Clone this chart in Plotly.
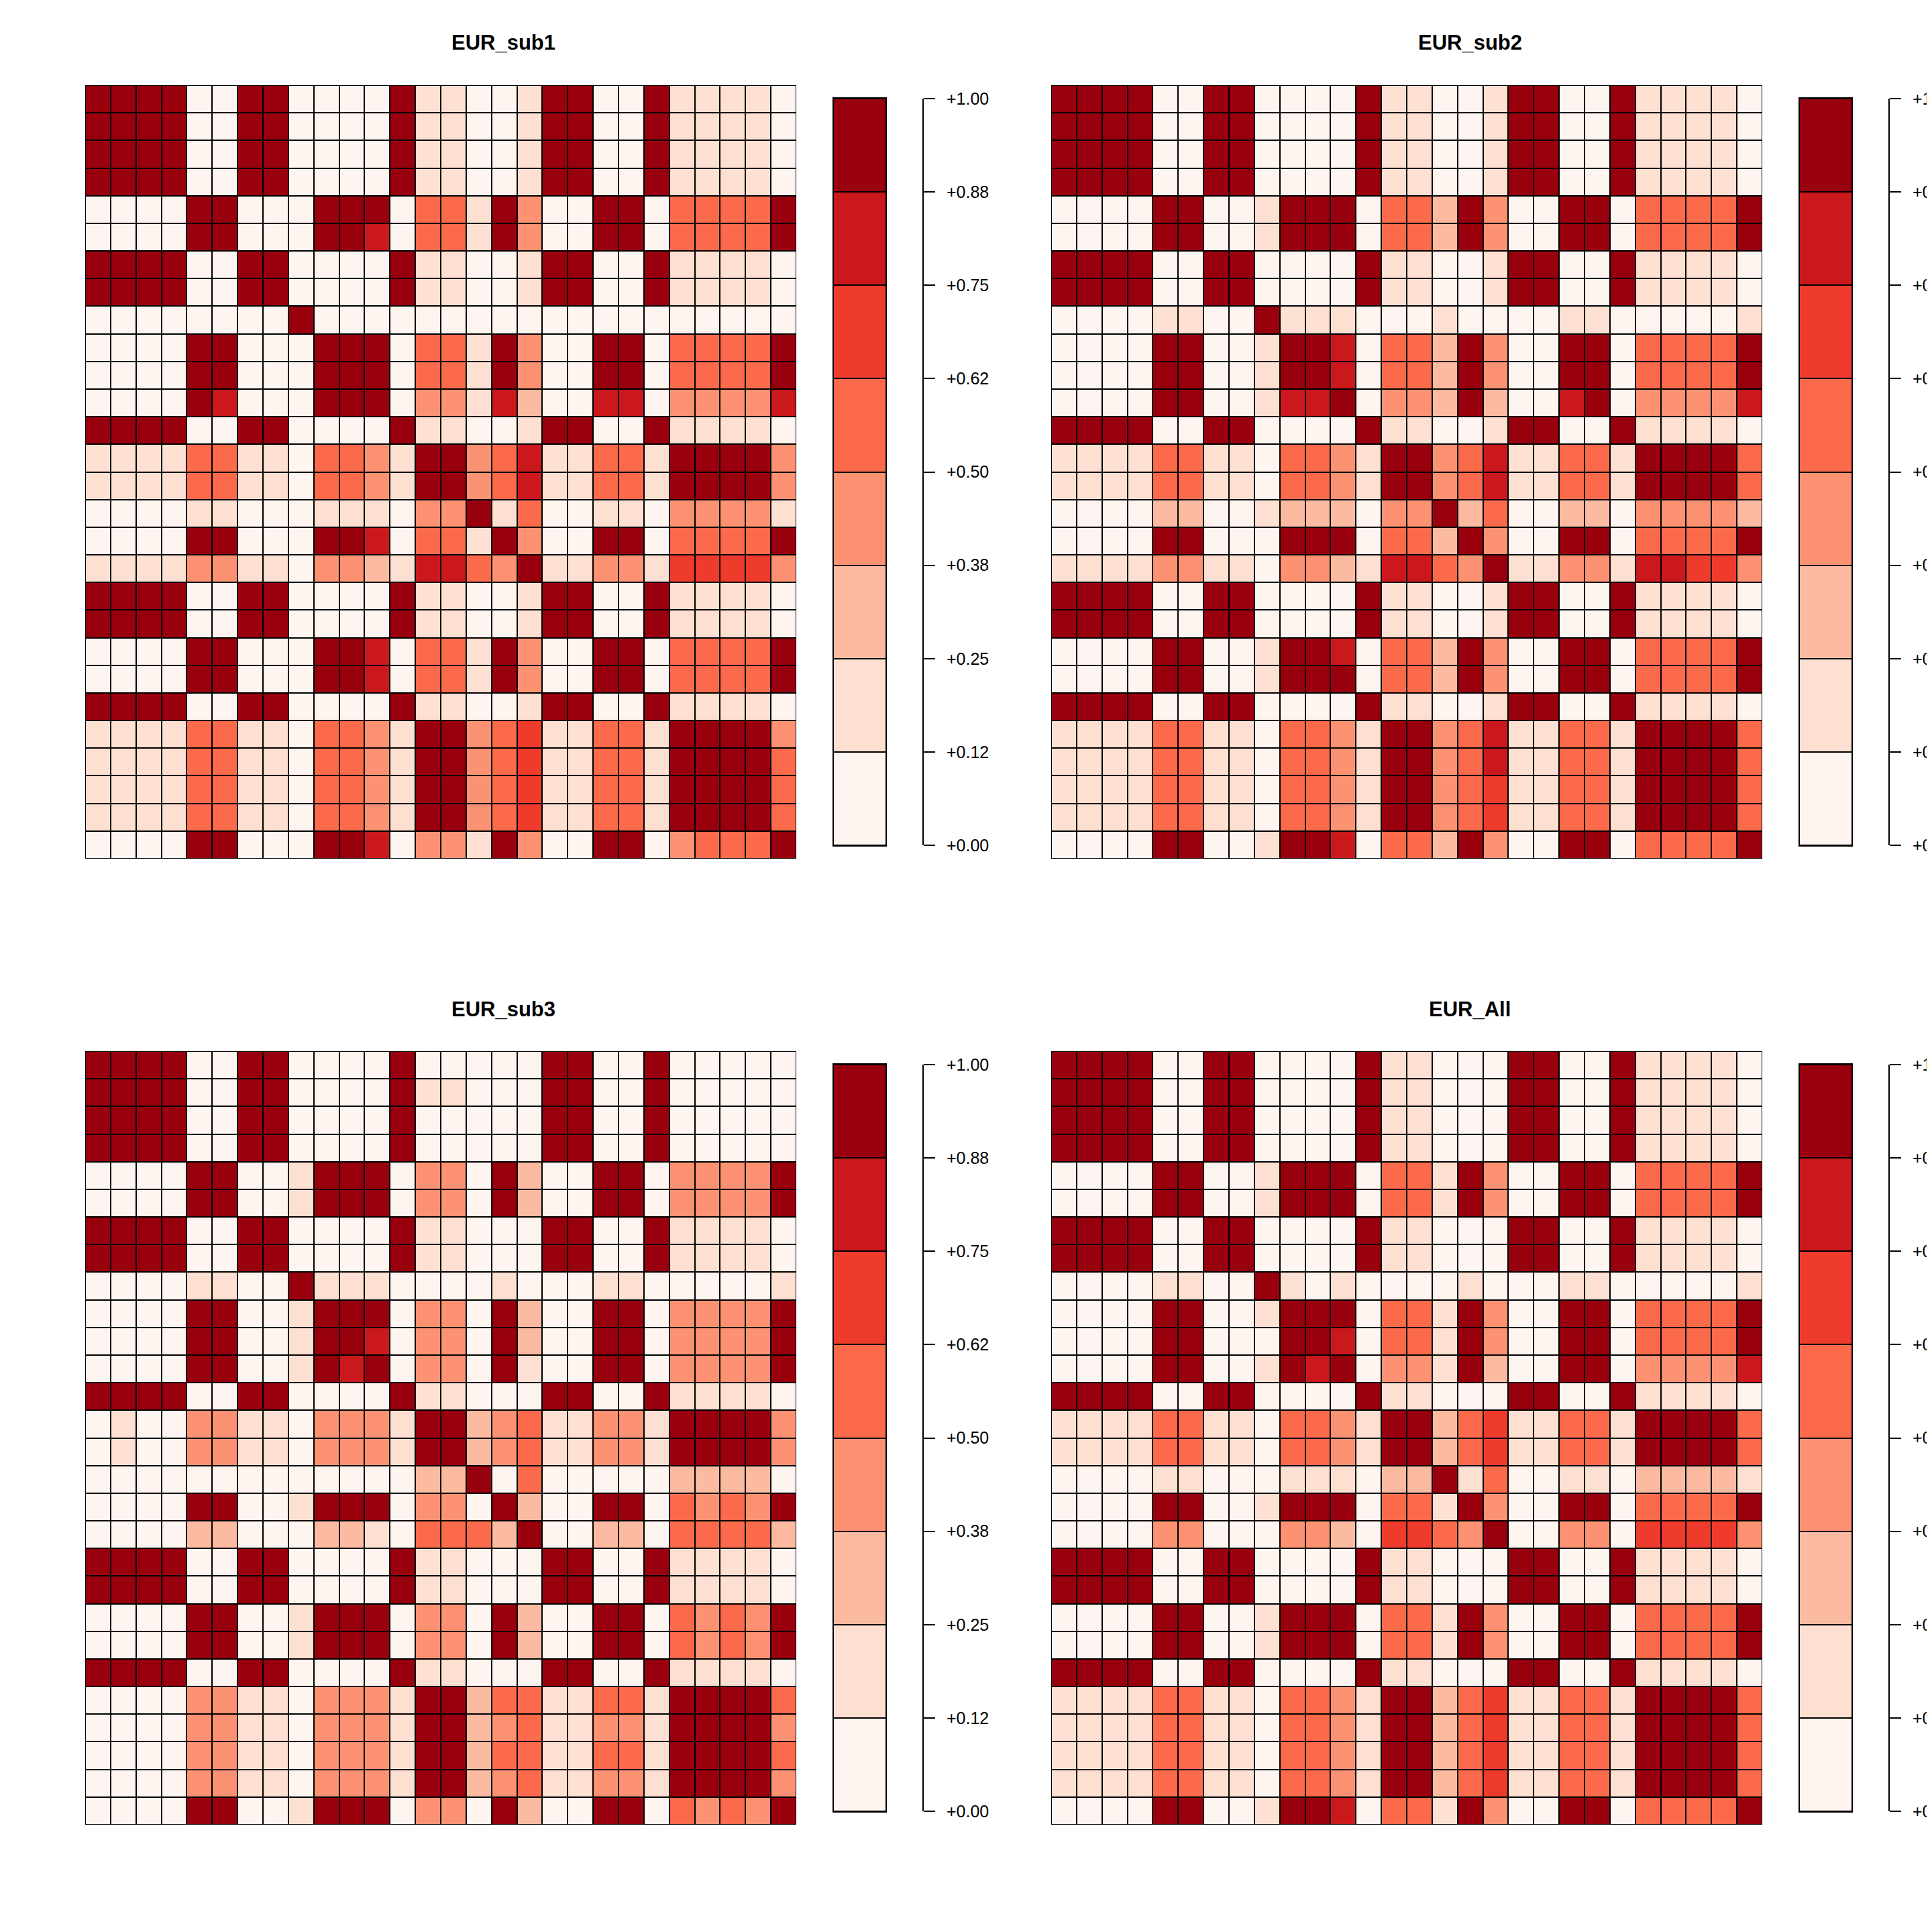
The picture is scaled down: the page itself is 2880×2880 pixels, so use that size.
import plotly.graph_objects as go

# ---------------- data (binned correlation levels, 0..7 per cell, rows top->bottom) ----------------
REDS8 = ["#FFF5F0", "#FEE0D2", "#FCBBA1", "#FC9272", "#FB6A4A", "#EF3B2C", "#CB181D", "#99000D"]
BREAKS = [0.0, 0.125, 0.25, 0.375, 0.5, 0.625, 0.75, 0.875, 1.0]
BREAK_LABELS = ["+0.00", "+0.12", "+0.25", "+0.38", "+0.50", "+0.62", "+0.75", "+0.88", "+1.00"]
TITLES = ["EUR_sub1", "EUR_sub2", "EUR_sub3", "EUR_All"]
ITEMS = list(range(1, 29))

EUR_SUB1 = [
    "7777 00 77 0000 7 11 00 1 77 00 7 1111 0",
    "7777 00 77 0000 7 11 00 1 77 00 7 1111 0",
    "7777 00 77 0000 7 11 00 1 77 00 7 1111 0",
    "7777 00 77 0000 7 11 00 1 77 00 7 1111 0",
    "0000 77 00 0 777 0 44 1 7 3 00 77 0 4444 7",
    "0000 77 00 0 776 0 44 1 7 3 00 77 0 4444 7",
    "7777 00 77 0000 7 11 00 1 77 00 7 1111 0",
    "7777 00 77 0000 7 11 00 1 77 00 7 1111 0",
    "0000 00 00 7 000 0 00 0 0 0 00 00 0 0000 0",
    "0000 77 00 0 777 0 44 1 7 3 00 77 0 4444 7",
    "0000 77 00 0 777 0 44 1 7 3 00 77 0 4444 7",
    "0000 76 00 0 777 0 33 1 6 2 00 66 0 3333 6",
    "7777 00 77 0000 7 11 00 1 77 00 7 1111 0",
    "1111 44 11 0 443 1 77 3 4 6 11 44 1 7777 3",
    "1111 44 11 0 443 1 77 3 4 6 11 44 1 7777 3",
    "0000 11 00 0 111 0 33 7 1 4 00 11 0 3333 1",
    "0000 77 00 0 776 0 44 1 7 3 00 77 0 4444 7",
    "1111 33 11 0 332 1 66 4 3 7 11 33 1 5555 3",
    "7777 00 77 0000 7 11 00 1 77 00 7 1111 0",
    "7777 00 77 0000 7 11 00 1 77 00 7 1111 0",
    "0000 77 00 0 776 0 44 1 7 3 00 77 0 4444 7",
    "0000 77 00 0 776 0 44 1 7 3 00 77 0 4444 7",
    "7777 00 77 0000 7 11 00 1 77 00 7 1111 0",
    "1111 44 11 0 443 1 77 3 4 5 11 44 1 7777 3",
    "1111 44 11 0 443 1 77 3 4 5 11 44 1 7777 4",
    "1111 44 11 0 443 1 77 3 4 5 11 44 1 7777 4",
    "1111 44 11 0 443 1 77 3 4 5 11 44 1 7777 4",
    "0000 77 00 0 776 0 33 1 7 3 00 77 0 3444 7",
]

EUR_SUB2 = [
    "7777 00 77 0000 7 11 00 1 77 00 7 1111 0",
    "7777 00 77 0000 7 11 00 1 77 00 7 1111 0",
    "7777 00 77 0000 7 11 00 1 77 00 7 1111 0",
    "7777 00 77 0000 7 11 00 1 77 00 7 1111 0",
    "0000 77 00 1 777 0 44 2 7 3 00 77 0 4444 7",
    "0000 77 00 1 777 0 44 2 7 3 00 77 0 4444 7",
    "7777 00 77 0000 7 11 00 1 77 00 7 1111 0",
    "7777 00 77 0000 7 11 00 1 77 00 7 1111 0",
    "0000 11 00 7 111 0 00 1 0 0 00 11 0 0000 1",
    "0000 77 00 1 776 0 44 2 7 3 00 77 0 4444 7",
    "0000 77 00 1 776 0 44 2 7 3 00 77 0 4444 7",
    "0000 77 00 1 667 0 33 2 7 2 00 67 0 3333 6",
    "7777 00 77 0000 7 11 00 1 77 00 7 1111 0",
    "1111 44 11 0 443 1 77 3 4 6 11 44 1 7777 4",
    "1111 44 11 0 443 1 77 3 4 6 11 44 1 7777 4",
    "0000 22 00 1 222 0 33 7 2 4 00 22 0 3333 2",
    "0000 77 00 0 777 0 44 2 7 3 00 77 0 4444 7",
    "1111 33 11 0 332 1 66 4 3 7 11 33 1 6655 3",
    "7777 00 77 0000 7 11 00 1 77 00 7 1111 0",
    "7777 00 77 0000 7 11 00 1 77 00 7 1111 0",
    "0000 77 00 1 776 0 44 2 7 3 00 77 0 4444 7",
    "0000 77 00 1 777 0 44 2 7 3 00 77 0 4444 7",
    "7777 00 77 0000 7 11 00 1 77 00 7 1111 0",
    "1111 44 11 0 443 1 77 3 4 6 11 44 1 7777 4",
    "1111 44 11 0 443 1 77 3 4 6 11 44 1 7777 4",
    "1111 44 11 0 443 1 77 3 4 5 11 44 1 7777 4",
    "1111 44 11 0 443 1 77 3 4 5 11 44 1 7777 4",
    "0000 77 00 1 776 0 44 2 7 3 00 77 0 4444 7",
]

EUR_SUB3 = [
    "7777 00 77 0000 7 00 00 0 77 00 7 0000 0",
    "7777 00 77 0000 7 11 00 0 77 00 7 0000 0",
    "7777 00 77 0000 7 00 00 0 77 00 7 0000 0",
    "7777 00 77 0000 7 00 00 0 77 00 7 0000 0",
    "0000 77 00 1 777 0 33 0 7 2 00 77 0 3333 7",
    "0000 77 00 1 777 0 33 0 7 2 00 77 0 3333 7",
    "7777 00 77 0000 7 11 00 0 77 00 7 1111 0",
    "7777 00 77 0000 7 11 00 0 77 00 7 1111 0",
    "0000 11 00 7 111 0 00 0 1 0 00 11 0 0000 1",
    "0000 77 00 1 777 0 33 0 7 2 00 77 0 3333 7",
    "0000 77 00 1 776 0 33 0 7 2 00 77 0 3333 7",
    "0000 77 00 1 767 0 33 0 7 1 00 77 0 3333 7",
    "7777 00 77 0000 7 11 00 0 77 00 7 1111 0",
    "0100 33 11 0 333 1 77 2 3 4 11 33 1 7777 3",
    "0100 33 11 0 333 1 77 2 3 4 11 33 1 7777 3",
    "0000 00 00 0 000 0 22 7 0 4 00 00 0 2222 0",
    "0000 77 00 1 777 0 33 0 7 2 00 77 0 4343 7",
    "0000 22 00 0 221 0 44 4 2 7 00 22 0 4444 2",
    "7777 00 77 0000 7 11 00 0 77 00 7 1111 0",
    "7777 00 77 0000 7 11 00 0 77 00 7 1111 0",
    "0000 77 00 1 777 0 33 0 7 2 00 77 0 4343 7",
    "0000 77 00 1 777 0 33 0 7 2 00 77 0 4343 7",
    "7777 00 77 0000 7 11 00 0 77 00 7 1111 0",
    "0000 33 11 0 333 1 77 2 4 4 11 44 1 7777 4",
    "0000 33 11 0 333 1 77 2 3 4 11 33 1 7777 3",
    "0000 33 11 0 333 1 77 2 4 4 11 44 1 7777 4",
    "0000 33 11 0 333 1 77 2 3 4 11 33 1 7777 3",
    "0000 77 00 1 777 0 33 0 7 2 00 77 0 4343 7",
]

EUR_ALL = [
    "7777 00 77 0000 7 11 00 0 77 00 7 1111 0",
    "7777 00 77 0000 7 11 00 0 77 00 7 1111 0",
    "7777 00 77 0000 7 11 00 0 77 00 7 1111 0",
    "7777 00 77 0000 7 11 00 0 77 00 7 1111 0",
    "0000 77 00 1 777 0 44 1 7 3 00 77 0 4444 7",
    "0000 77 00 1 777 0 44 1 7 3 00 77 0 4444 7",
    "7777 00 77 0000 7 11 00 0 77 00 7 1111 0",
    "7777 00 77 0000 7 11 00 0 77 00 7 1111 0",
    "0000 11 00 7 101 0 00 0 1 0 00 11 0 0000 1",
    "0000 77 00 1 777 0 44 1 7 3 00 77 0 4444 7",
    "0000 77 00 0 776 0 44 1 7 3 00 77 0 4444 7",
    "0000 77 00 1 767 0 33 1 7 2 00 77 0 3333 6",
    "7777 00 77 0000 7 11 00 0 77 00 7 1111 0",
    "1111 44 11 0 443 1 77 2 4 5 11 44 1 7777 4",
    "1111 44 11 0 443 1 77 2 4 5 11 44 1 7777 4",
    "0000 11 00 0 111 0 22 7 1 4 00 11 0 2222 1",
    "0000 77 00 1 777 0 44 1 7 3 00 77 0 4444 7",
    "0000 33 00 0 332 0 55 4 3 7 00 33 0 5555 3",
    "7777 00 77 0000 7 11 00 0 77 00 7 1111 0",
    "7777 00 77 0000 7 11 00 0 77 00 7 1111 0",
    "0000 77 00 1 777 0 44 1 7 3 00 77 0 4444 7",
    "0000 77 00 1 777 0 44 1 7 3 00 77 0 4444 7",
    "7777 00 77 0000 7 11 00 0 77 00 7 1111 0",
    "1111 44 11 0 443 1 77 2 4 5 11 44 1 7777 4",
    "1111 44 11 0 443 1 77 2 4 5 11 44 1 7777 4",
    "1111 44 11 0 443 1 77 2 4 5 11 44 1 7777 4",
    "1111 44 11 0 443 1 77 2 4 5 11 44 1 7777 4",
    "0000 77 00 1 776 0 44 1 7 3 00 77 0 4444 7",
]

MATRICES = [EUR_SUB1, EUR_SUB2, EUR_SUB3, EUR_ALL]


def to_values(rows):
    """Turn level digits into the mid value of each colour bin."""
    out = []
    for r in rows:
        lv = [int(c) for c in r.replace(" ", "")]
        out.append([(BREAKS[l] + BREAKS[l + 1]) / 2 for l in lv])
    return out


# discrete (stepped) colour scale
COLORSCALE = []
for k, c in enumerate(REDS8):
    COLORSCALE.append([BREAKS[k], c])
    COLORSCALE.append([BREAKS[k + 1], c])

BAND_MIDS = [(BREAKS[k] + BREAKS[k + 1]) / 2 for k in range(len(REDS8))]

# ---------------- layout geometry (pixels of the 2880 reference) ----------------
W = H = 2864
OFF = 8
FONT = "Liberation Sans, Arial, Helvetica, sans-serif"


def px(X):
    return (X - OFF) / W


def py(Y):
    return 1 - (Y - OFF) / H


ORIGINS = [(127, 127), (1567, 127), (127, 1567), (1567, 1567)]
PW, PH = 1060, 1153


def axname(kind, n):
    return f"{kind}axis" if n == 1 else f"{kind}axis{n}"


def axref(kind, n):
    return kind if n == 1 else f"{kind}{n}"


fig = go.Figure()
layout = dict(
    template="none",
    width=W, height=H, autosize=False,
    margin=dict(l=0, r=0, t=0, b=0, pad=0, autoexpand=False),
    paper_bgcolor="white", plot_bgcolor="black",
    showlegend=False,
    annotations=[],
)

for i, (rows, title, (X0, Y0)) in enumerate(zip(MATRICES, TITLES, ORIGINS)):
    n_main = 2 * i + 1
    n_bar = 2 * i + 2
    n_tick = 9 + i

    fig.add_trace(go.Heatmap(
        z=to_values(rows), x=ITEMS, y=ITEMS,
        xaxis=axref("x", n_main), yaxis=axref("y", n_main),
        colorscale=COLORSCALE, zmin=0, zmax=1, showscale=False,
        xgap=2, ygap=2, hoverinfo="skip",
    ))
    layout[axname("x", n_main)] = dict(
        domain=[px(X0), px(X0 + PW)], range=[0.5, 28.5], visible=False,
        anchor=axref("y", n_main), fixedrange=True, automargin=False)
    layout[axname("y", n_main)] = dict(
        domain=[py(Y0 + PH), py(Y0)], range=[28.5, 0.5], visible=False,
        anchor=axref("x", n_main), fixedrange=True, automargin=False)

    # colour key as its own small heatmap
    fig.add_trace(go.Heatmap(
        z=[[m] for m in BAND_MIDS], x=[0], y=BAND_MIDS,
        xaxis=axref("x", n_bar), yaxis=axref("y", n_bar),
        colorscale=COLORSCALE, zmin=0, zmax=1, showscale=False,
        ygap=2, hoverinfo="skip",
    ))
    boxline = dict(showline=True, mirror=True, linecolor="black", linewidth=2,
                   showticklabels=False, ticks="", showgrid=False, zeroline=False,
                   fixedrange=True, automargin=False)
    layout[axname("x", n_bar)] = dict(
        domain=[px(X0 + 1116), px(X0 + 1193)], range=[-0.5, 0.5],
        anchor=axref("y", n_bar), **boxline)
    layout[axname("y", n_bar)] = dict(
        domain=[py(Y0 + 1133), py(Y0 + 20)], range=[0, 1],
        anchor=axref("x", n_bar), **boxline)

    # separate tick axis to the right of the key
    fig.add_trace(go.Scatter(
        x=[0], y=[0.5], xaxis=axref("x", n_bar), yaxis=axref("y", n_tick),
        mode="markers", marker=dict(opacity=0), hoverinfo="skip", showlegend=False))
    layout[axname("y", n_tick)] = dict(
        overlaying=axref("y", n_bar), anchor="free", position=px(X0 + 1249),
        side="right", range=[0, 1], tickmode="array",
        tickvals=BREAKS, ticktext=BREAK_LABELS,
        ticks="outside", ticklen=17, tickwidth=2, tickcolor="black",
        showline=True, linewidth=2, linecolor="black",
        showgrid=False, zeroline=False, fixedrange=True, automargin=False,
        ticklabelstandoff=12,
        tickfont=dict(family=FONT, size=25, color="black"))

    layout["annotations"].append(dict(
        text=f"<b>{title}</b>", x=px(X0 + 624), y=py(Y0 - 63),
        xref="paper", yref="paper", showarrow=False,
        xanchor="center", yanchor="middle",
        font=dict(family=FONT, size=31, color="black")))

fig.update_layout(**layout)
fig.write_html("out.html")
